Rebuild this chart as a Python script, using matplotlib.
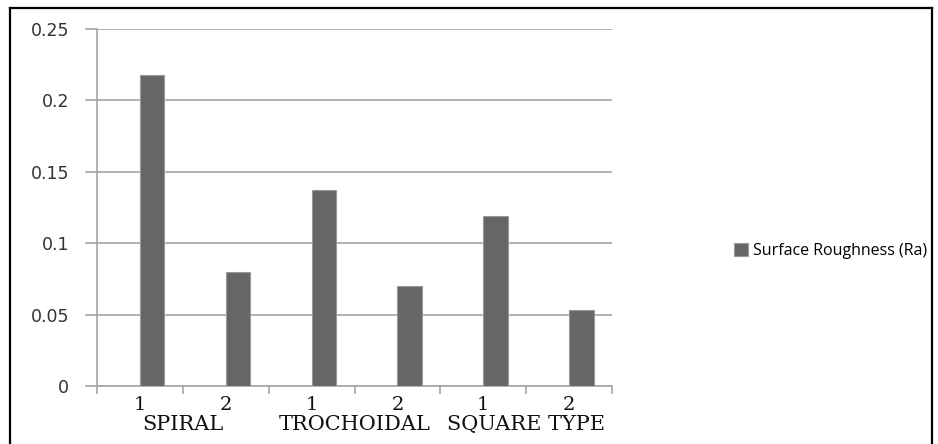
import matplotlib
matplotlib.use("Agg")
import matplotlib.pyplot as plt
from matplotlib.lines import Line2D
import numpy as np

# Surface roughness per tool-path strategy and trial
trials = ["1", "2", "1", "2", "1", "2"]
strategies = ["SPIRAL", "TROCHOIDAL", "SQUARE TYPE"]
roughness = [0.218, 0.080, 0.137, 0.070, 0.119, 0.053]
series_name = "Surface Roughness (Ra)"
y_ticks = [0, 0.05, 0.1, 0.15, 0.2, 0.25]
y_tick_labels = ["0", "0.05", "0.1", "0.15", "0.2", "0.25"]

W, H = 938, 444
fig = plt.figure(figsize=(W / 100, H / 100), dpi=100)
fig.patch.set_facecolor("white")

# plot area in pixel units
x0, x1, ytop, ybot = 97, 612, 29, 386
ax = fig.add_axes([x0 / W, 1 - ybot / H, (x1 - x0) / W, (ybot - ytop) / H])

n = len(trials)
pos = np.arange(n)
bar_w = 1 / 3.5
bars = ax.bar(pos + bar_w / 2, roughness, width=bar_w, color="#666666",
              edgecolor="#9a9a9a", linewidth=0.8, label=series_name, zorder=3)

ax.set_xlim(-0.5, n - 0.5)
ax.set_ylim(0, 0.25)
ax.set_yticks(y_ticks)
ax.set_yticklabels(y_tick_labels, fontsize=12.5, color="#333333", family="DejaVu Sans")
ax.yaxis.grid(True, color="#a6a6a6", linewidth=1.2, zorder=0)
ax.set_axisbelow(True)

for s in ["top", "right"]:
    ax.spines[s].set_visible(False)
for s in ["left", "bottom"]:
    ax.spines[s].set_color("#a6a6a6")
    ax.spines[s].set_linewidth(1.2)

ax.tick_params(axis="y", length=9, width=1.2, color="#a6a6a6", pad=11)
ax.set_xticks(np.arange(n + 1) - 0.5)
ax.set_xticklabels([])
ax.tick_params(axis="x", length=6, width=1.2, color="#a6a6a6")

# two-level category labels
for i, t in enumerate(trials):
    ax.text(i, -0.052, t, transform=ax.get_xaxis_transform(), ha="center", va="center",
            fontsize=14, family="DejaVu Serif", color="#111111")
for g, name in enumerate(strategies):
    ax.text(2 * g + 0.5, -0.108, name, transform=ax.get_xaxis_transform(), ha="center",
            va="center", fontsize=15, family="DejaVu Serif", color="#111111")

fig.legend(handles=[bars], labels=[series_name], loc="center left",
           bbox_to_anchor=(734 / W, 1 - 251 / H), frameon=False,
           handlelength=0.9, handleheight=0.9, handletextpad=0.3,
           borderpad=0, borderaxespad=0,
           prop={"family": "Open Sans", "size": 11.5})

# chart frame
frame_kw = dict(color="black", linewidth=1.6, transform=fig.transFigure)
fig.add_artist(Line2D([10 / W, 10 / W], [0, 1 - 8 / H], **frame_kw))
fig.add_artist(Line2D([10 / W, 932 / W], [1 - 8 / H, 1 - 8 / H], **frame_kw))
fig.add_artist(Line2D([932 / W, 932 / W], [0, 1 - 8 / H], **frame_kw))

fig.savefig("out.png", dpi=100, facecolor="white")
